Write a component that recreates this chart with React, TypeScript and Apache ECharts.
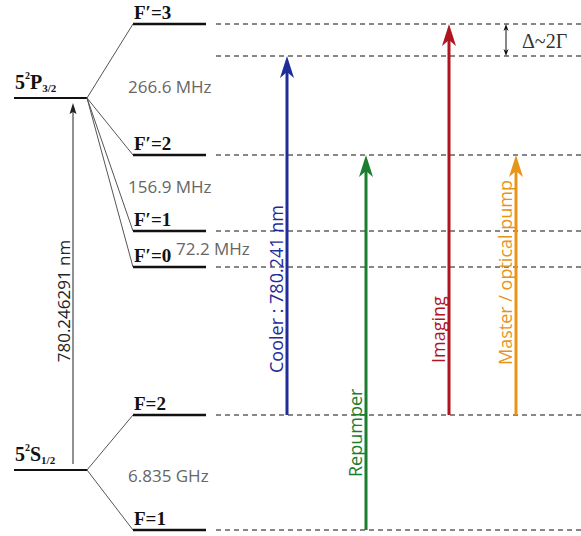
import React, { useEffect, useRef } from "react";
import * as echarts from "echarts";

const W = 581;
const H = 536;

// ---- Data (energies in arbitrary diagram units, measured upward from the bottom) ----
const fineStates = ["{n|5}{p|2}{n|P}{b|3/2}", "{n|5}{p|2}{n|S}{b|1/2}"];
const fineEnergies = [438, 66];

const hfLabels = ["F′=3", "F′=2", "F′=1", "F′=0", "F=2", "F=1"];
const hfEnergies = [512, 381, 305, 269, 121, 6];
const hfParent = [0, 0, 0, 0, 1, 1];

const detunedEnergy = 480;
const detuneLabel = "Δ~2Γ";

const splitLabels = ["266.6 MHz", "156.9 MHz", "72.2 MHz", "6.835 GHz"];
const splitLower = [1, 2, 3, 5];
const splitUpper = [0, 1, 2, 4];

const transitionNames = ["Cooler : 780.241 nm", "Repumper", "Imaging", "Master / optical pump"];
const transitionFrom = [121, 6, 121, 121];
const transitionTo = [480, 381, 512, 381];

const d2Label = "780.246291 nm";
const d2From = 72;
const d2To = 433;

// ---- Layout & style ----
const FINE_X = [14, 87];
const HF_X = [133, 206];
const DASH_X = [216, 581];
const TRANS_X = [287, 366, 449, 516];
const TRANS_LABEL_START = [163, 59, 173, 171];
const TRANS_COLORS = ["#1f2d9b", "#1b7d2e", "#b0151f", "#e8941a"];
const SPLIT_X = [128, 128, 176, 128];
const SPLIT_DY = [3.5, 7, 1, -2.5];
const D2_X = 73;
const DELTA_X = 506;

const SANS = '"Open Sans", "DejaVu Sans", sans-serif';
const SERIF = '"Liberation Serif", "DejaVu Serif", serif';

function arrowEls(p0: number[], p1: number[], color: string, lw: number, hw: number, hh: number, notch: number) {
  const x = p1[0];
  const tipY = p1[1];
  return [
    { type: "line", shape: { x1: p0[0], y1: p0[1], x2: x, y2: tipY + hh - notch }, style: { stroke: color, lineWidth: lw } },
    {
      type: "polygon",
      shape: { points: [[x, tipY], [x - hw / 2, tipY + hh], [x, tipY + hh - notch], [x + hw / 2, tipY + hh]] },
      style: { fill: color },
    },
  ];
}

function textStyle(text: string, fill: string, font: string, align: string, vAlign: string, extra: any = {}) {
  return {
    text,
    x: 0,
    y: 0,
    fill,
    font,
    align,
    textAlign: align,
    verticalAlign: vAlign,
    textVerticalAlign: vAlign,
    ...extra,
  };
}

export default function App() {
  const ref = useRef<HTMLDivElement>(null);
  useEffect(() => {
    if (!ref.current) return;
    const chart = echarts.init(ref.current, null, { renderer: "svg" });
    const option: any = {
      animation: false,
      grid: { left: 0, right: 0, top: 0, bottom: 0 },
      xAxis: { type: "value", min: 0, max: W, show: false },
      yAxis: { type: "value", min: 0, max: H, show: false },
      series: [
        // fine structure levels
        {
          type: "custom",
          silent: true,
          data: fineEnergies.map((e) => [FINE_X[0], e]),
          renderItem: (params: any, api: any) => {
            const i = params.dataIndex;
            const a = api.coord([FINE_X[0], fineEnergies[i]]);
            const b = api.coord([FINE_X[1], fineEnergies[i]]);
            return {
              type: "group",
              children: [
                { type: "line", shape: { x1: a[0], y1: a[1], x2: b[0], y2: b[1] }, style: { stroke: "#111", lineWidth: 2 } },
                {
                  type: "text",
                  x: a[0] + 1,
                  y: a[1] - 5,
                  style: textStyle(fineStates[i], "#111", `bold 20px ${SERIF}`, "left", "bottom", {
                    rich: {
                      n: { font: `bold 20px ${SERIF}`, lineHeight: 23, fill: "#111" },
                      p: { font: `bold 10px ${SERIF}`, lineHeight: 11, verticalAlign: "top", fill: "#111" },
                      b: { font: `bold 11px ${SERIF}`, lineHeight: 11, verticalAlign: "bottom", fill: "#111" },
                    },
                  }),
                },
              ],
            };
          },
        },
        // hyperfine levels
        {
          type: "custom",
          silent: true,
          data: hfEnergies.map((e) => [HF_X[0], e]),
          renderItem: (params: any, api: any) => {
            const i = params.dataIndex;
            const e = hfEnergies[i];
            const a = api.coord([HF_X[0], e]);
            const b = api.coord([HF_X[1], e]);
            const s = api.coord([FINE_X[1], fineEnergies[hfParent[i]]]);
            const d0 = api.coord([DASH_X[0], e]);
            const d1 = api.coord([DASH_X[1], e]);
            return {
              type: "group",
              children: [
                { type: "line", shape: { x1: s[0], y1: s[1], x2: a[0], y2: a[1] }, style: { stroke: "#555", lineWidth: 1 } },
                { type: "line", shape: { x1: a[0], y1: a[1], x2: b[0], y2: b[1] }, style: { stroke: "#111", lineWidth: 2.5 } },
                {
                  type: "line",
                  shape: { x1: d0[0], y1: d0[1], x2: d1[0], y2: d1[1] },
                  style: { stroke: "#111", lineWidth: 1, lineDash: [5, 4] },
                },
                {
                  type: "text",
                  x: a[0] + 1,
                  y: a[1] - 2,
                  style: textStyle(hfLabels[i], "#111", `bold 19px ${SERIF}`, "left", "bottom"),
                },
              ],
            };
          },
        },
        // detuned level and Δ annotation
        {
          type: "custom",
          silent: true,
          data: [[DASH_X[0], detunedEnergy]],
          renderItem: (params: any, api: any) => {
            const d0 = api.coord([DASH_X[0], detunedEnergy]);
            const d1 = api.coord([DASH_X[1], detunedEnergy]);
            const top = api.coord([DELTA_X, hfEnergies[0]]);
            const bot = api.coord([DELTA_X, detunedEnergy]);
            const x = top[0];
            const hw = 5;
            const hh = 7;
            return {
              type: "group",
              children: [
                {
                  type: "line",
                  shape: { x1: d0[0], y1: d0[1], x2: d1[0], y2: d1[1] },
                  style: { stroke: "#111", lineWidth: 1, lineDash: [5, 4] },
                },
                { type: "line", shape: { x1: x, y1: top[1] + 3, x2: x, y2: bot[1] - 3 }, style: { stroke: "#111", lineWidth: 1 } },
                {
                  type: "polygon",
                  shape: { points: [[x, top[1]], [x - hw / 2, top[1] + hh], [x, top[1] + hh - 2], [x + hw / 2, top[1] + hh]] },
                  style: { fill: "#111" },
                },
                {
                  type: "polygon",
                  shape: { points: [[x, bot[1]], [x - hw / 2, bot[1] - hh], [x, bot[1] - hh + 2], [x + hw / 2, bot[1] - hh]] },
                  style: { fill: "#111" },
                },
                {
                  type: "text",
                  x: x + 16,
                  y: (top[1] + bot[1]) / 2 + 1,
                  style: textStyle(detuneLabel, "#333", `20px ${SERIF}`, "left", "middle"),
                },
              ],
            };
          },
        },
        // splitting labels
        {
          type: "custom",
          silent: true,
          data: splitLabels.map((_, i) => [SPLIT_X[i], (hfEnergies[splitUpper[i]] + hfEnergies[splitLower[i]]) / 2]),
          renderItem: (params: any, api: any) => {
            const i = params.dataIndex;
            const mid = (hfEnergies[splitUpper[i]] + hfEnergies[splitLower[i]]) / 2 + SPLIT_DY[i];
            const p = api.coord([SPLIT_X[i], mid]);
            return {
              type: "text",
              x: p[0],
              y: p[1],
              style: textStyle(splitLabels[i], "#666", `17px ${SANS}`, "left", "middle"),
            };
          },
        },
        // laser transitions
        {
          type: "custom",
          silent: true,
          data: transitionNames.map((_, i) => [TRANS_X[i], transitionTo[i]]),
          renderItem: (params: any, api: any) => {
            const i = params.dataIndex;
            const p0 = api.coord([TRANS_X[i], transitionFrom[i]]);
            const p1 = api.coord([TRANS_X[i], transitionTo[i]]);
            const lp = api.coord([TRANS_X[i], TRANS_LABEL_START[i]]);
            return {
              type: "group",
              children: [
                ...arrowEls(p0, p1, TRANS_COLORS[i], 3, 14, 22, 6),
                {
                  type: "text",
                  x: lp[0] - 11,
                  y: lp[1],
                  rotation: Math.PI / 2,
                  style: textStyle(transitionNames[i], TRANS_COLORS[i], `18px ${SANS}`, "left", "middle"),
                },
              ],
            };
          },
        },
        // D2 line
        {
          type: "custom",
          silent: true,
          data: [[D2_X, d2To]],
          renderItem: (params: any, api: any) => {
            const p0 = api.coord([D2_X, d2From]);
            const p1 = api.coord([D2_X, d2To]);
            return {
              type: "group",
              children: [
                ...arrowEls(p0, p1, "#222", 1, 7, 11, 2),
                {
                  type: "text",
                  x: p0[0] - 10,
                  y: 301,
                  rotation: Math.PI / 2,
                  style: textStyle(d2Label, "#222", `17px ${SANS}`, "center", "middle"),
                },
              ],
            };
          },
        },
      ],
    };
    chart.setOption(option);
    return () => chart.dispose();
  }, []);
  return <div ref={ref} style={{ position: "fixed", left: 0, top: 0, width: W, height: H, background: "#fff" }} />;
}
